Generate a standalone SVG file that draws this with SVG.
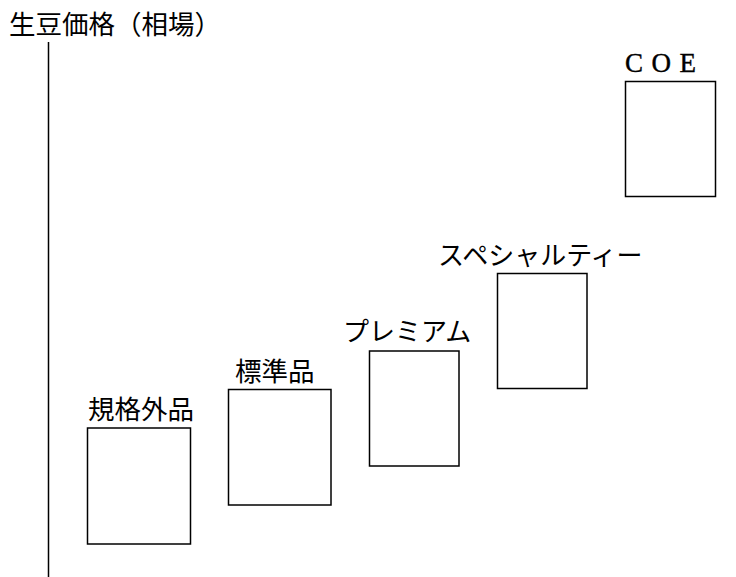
<svg xmlns="http://www.w3.org/2000/svg" width="736" height="577" viewBox="0 0 736 577">
<style>
.box{fill:#fff;stroke:#000;stroke-width:1.5}
.g{font-family:"Noto Sans CJK JP","Noto Sans",sans-serif;font-size:26.5px;fill:#000}
.m{font-family:"Noto Sans CJK JP","Noto Sans",sans-serif;font-size:26px;fill:#000}
.s{font-family:"Liberation Serif",serif;font-size:27px;fill:#000;letter-spacing:8.5px;stroke:#000;stroke-width:0.4}
</style>
<rect width="736" height="577" fill="#fff"/>
<g id="axis">
<line x1="48.5" y1="42" x2="48.5" y2="577" stroke="#000" stroke-width="1.5"/>
<text class="g" x="9" y="34">生豆価格（相場）</text>
</g>
<g id="node-kikakugai">
<rect class="box" x="87.5" y="428" width="103" height="116"/>
<text class="g" x="88" y="419">規格外品</text>
</g>
<g id="node-hyojun">
<rect class="box" x="228.5" y="389.5" width="102.5" height="115.5"/>
<text class="g" x="235" y="381">標準品</text>
</g>
<g id="node-premium">
<rect class="box" x="369.5" y="351" width="89.5" height="115"/>
<text class="m" x="343" y="341">プレミアム</text>
</g>
<g id="node-specialty">
<rect class="box" x="497.5" y="273.5" width="89.5" height="115"/>
<text class="m" x="438" y="265">スペシャルティー</text>
</g>
<g id="node-coe">
<rect class="box" x="625.5" y="81.5" width="90" height="115"/>
<text class="s" x="625" y="72">COE</text>
</g>
<g id="connectors"/>
</svg>
